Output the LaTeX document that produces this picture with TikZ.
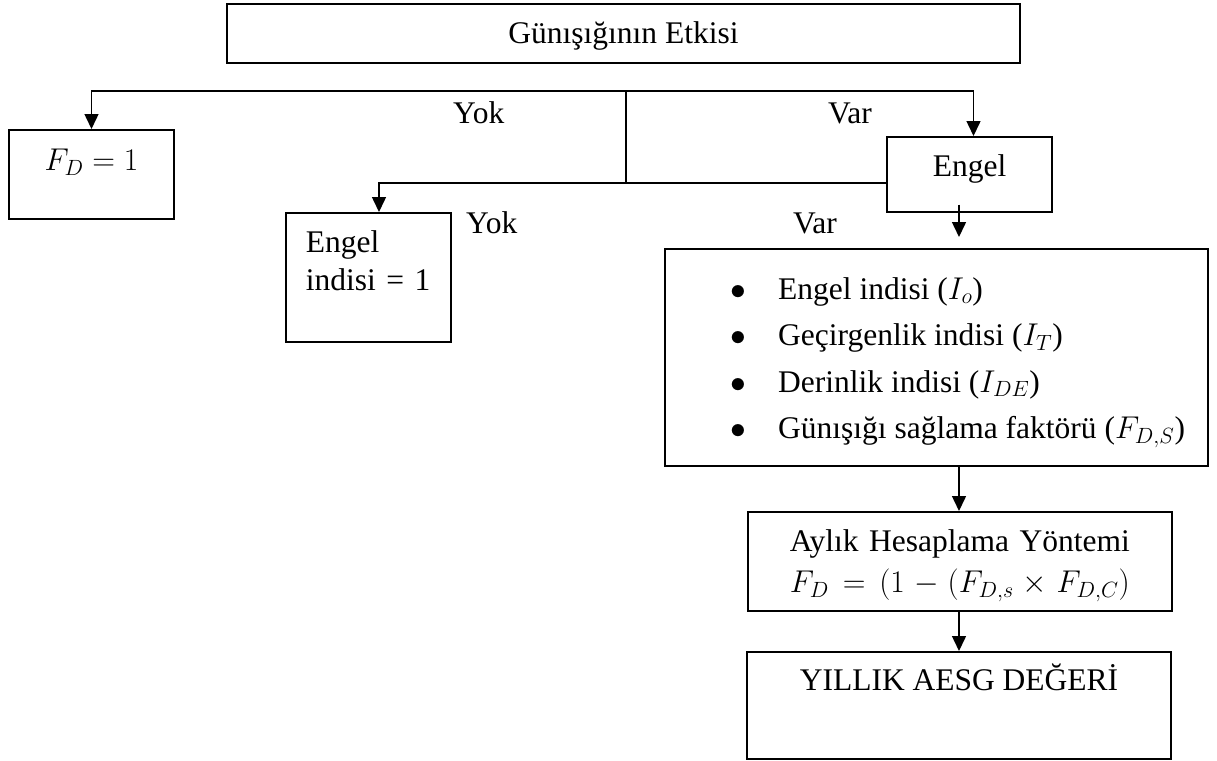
\RequirePackage{fix-cm}
\documentclass[tikz,border=0pt]{standalone}
\usepackage{fontspec}
\setmainfont{Liberation Serif}
\usetikzlibrary{arrows.meta}
\newcommand{\listdot}{\makebox[45pt][l]{\hspace{-3pt}$\bullet$}}
\begin{document}
\begin{tikzpicture}[x=1pt, y=-1pt,
  every node/.style={inner sep=0pt, font=\fontsize{31.5pt}{38pt}\selectfont},
  box/.style={draw, line width=1.6pt},
  wire/.style={line width=1.5pt},
  arr/.style={wire, -{Triangle[length=15pt, width=14pt]}},
  tag/.style={anchor=base west},
  entry/.style={anchor=base west}]

\fill[white] (0,0) rectangle (1217,760);

% title
\node[box, anchor=north, minimum width=793pt, text height=40pt, text depth=19pt]
  (title) at (623.5,3) {Günışığının Etkisi};

% no daylight effect
\node[box, anchor=north, minimum width=165pt, text height=41pt, text depth=48pt]
  (fd) at (91.5,129) {$F_D = 1$};

% obstruction
\node[box, anchor=north, minimum width=165pt, text height=40pt, text depth=35pt]
  (engel) at (969.5,136) {Engel};

\node[box, anchor=north west, inner xsep=20pt, text width=125pt, align=left,
      text height=40pt, text depth=89pt]
  (ei) at (285,212) {Engel\\indisi = 1};

% indices box
\node[box, anchor=north west, minimum width=543pt, minimum height=217pt]
  (list) at (664,248) {};
\node[entry] (l1) at (733,299)   {\listdot Engel indisi ($I_o$)};
\node[entry] (l2) at (733,345.5) {\listdot Geçirgenlik indisi ($I_T$)};
\node[entry] (l3) at (733,392)   {\listdot Derinlik indisi ($I_{DE}$)};
\node[entry] (l4) at (733,438.5) {\listdot Günışığı sağlama faktörü ($F_{D,S}$)};

% monthly method
\node[box, anchor=north west, inner xsep=5pt, text width=414pt, align=center,
      text height=40pt, text depth=59pt, font=\fontsize{31.5pt}{41pt}\selectfont]
  (month) at (747,511) {Aylık Hesaplama Yöntemi\\$F_D = (1 - (F_{D,s} \times F_{D,C})$};

% yearly value
\node[box, anchor=north, minimum width=424pt, text height=39pt, text depth=68pt]
  (year) at (959,651) {YILLIK AESG DEĞERİ};

% branch labels
\node[tag] (yok1) at (453,123) {Yok};
\node[tag] (var1) at (828,123) {Var};
\node[tag] (yok2) at (466,233) {Yok};
\node[tag] (var2) at (793,233) {Var};

% connectors
\coordinate (split) at (626,91);
\coordinate (branch) at (379,183);
\draw[arr] (split) -| (fd.north);
\draw[arr] (split) -| ([xshift=4pt]engel.north);
\draw[wire] (split) -- (split |- branch);
\draw[arr] (engel.west |- branch) -| (ei.north -| branch);
\draw[arr, shorten <=-8pt, shorten >=11pt] (engel.south -| year.north) -- (list.north -| year.north);
\draw[arr] (list.south -| year.north) -- (month.north -| year.north);
\draw[arr] (month.south -| year.north) -- (year.north);
\end{tikzpicture}
\end{document}
